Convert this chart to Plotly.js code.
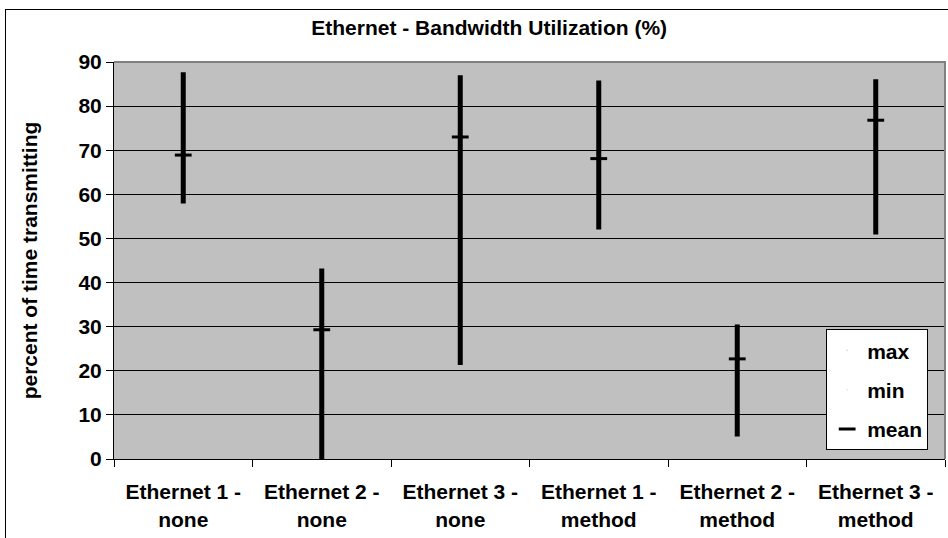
<!DOCTYPE html>
<html>
<head>
<meta charset="utf-8">
<script src="https://cdn.plot.ly/plotly-3.0.1.min.js"></script>
<style>
  body { margin: 0; background: #fff; }
  #chart { position: absolute; left: 0; top: 0; width: 948px; height: 538px; }
  #frame { position: absolute; left: 5px; top: 9px; width: 1000px; height: 1000px;
           border-left: 1px solid #000; border-top: 1px solid #000; pointer-events: none; }
</style>
</head>
<body>
<div id="chart"></div>
<div id="frame"></div>
<script>
const categories = [
    'Ethernet 1 -<br>none', 'Ethernet 2 -<br>none', 'Ethernet 3 -<br>none',
    'Ethernet 1 -<br>method', 'Ethernet 2 -<br>method', 'Ethernet 3 -<br>method'
];
const maxVals = [87.7, 43.2, 87.0, 85.8, 30.5, 86.1];
const minVals = [57.9, 0, 21.3, 52.0, 5.1, 50.9];
const meanVals = [68.9, 29.3, 73.0, 68.1, 22.7, 76.8];

const font = { family: 'Liberation Sans, Arial, sans-serif', size: 21, color: '#000', weight: 'bold' };

const traces = [
    {
        type: 'scatter', mode: 'markers', name: 'max', legendgroup: 'a',
        x: categories, y: maxVals,
        marker: { size: 1, opacity: 0 }, hoverinfo: 'y'
    },
    {
        type: 'scatter', mode: 'markers', name: 'min', legendgroup: 'b',
        x: categories, y: minVals,
        marker: { size: 1, opacity: 0 }, hoverinfo: 'y'
    },
    {
        type: 'scatter', mode: 'markers', name: 'mean', legendgroup: 'c',
        x: categories, y: meanVals,
        marker: { symbol: 'line-ew', size: 12, color: '#000', line: { color: '#000', width: 3 } },
        error_y: {
            type: 'data', symmetric: false,
            array: maxVals.map((v, i) => v - meanVals[i]),
            arrayminus: meanVals.map((v, i) => v - minVals[i]),
            color: '#000', thickness: 5, width: 0
        }
    }
];

const layout = {
    width: 948, height: 538,
    margin: { l: 114, r: 3, t: 62, b: 79 },
    paper_bgcolor: 'rgba(0,0,0,0)',
    plot_bgcolor: '#C0C0C0',
    font: font,
    showlegend: true,
    title: {
        text: 'Ethernet - Bandwidth Utilization (%)',
        font: font,
        xref: 'container', x: 0.516, xanchor: 'center',
        yref: 'container', y: 0.948, yanchor: 'middle'
    },
    xaxis: {
        type: 'category',
        range: [-0.5, 5.5],
        tickson: 'boundaries',
        ticks: 'outside', ticklen: 7, tickcolor: '#000',
        ticklabelstandoff: 14,
        showline: true, linecolor: '#000', linewidth: 1,
        showgrid: false,
        tickfont: font
    },
    yaxis: {
        range: [0, 90], dtick: 10,
        ticks: 'outside', ticklen: 7, tickcolor: '#000',
        showline: true, linecolor: '#000', linewidth: 1,
        gridcolor: '#000', gridwidth: 1,
        zeroline: false,
        tickfont: font,
        title: { text: 'percent of time transmitting', font: font, standoff: 35 }
    },
    legend: {
        x: 0.857, xanchor: 'left', y: 0.327, yanchor: 'top',
        bgcolor: '#fff', bordercolor: '#000', borderwidth: 1,
        traceorder: 'grouped', tracegroupgap: 9,
        font: font
    },
    shapes: [{
        type: 'path', xref: 'paper', yref: 'paper',
        path: 'M 0 1 L 1 1 L 1 0',
        line: { color: '#808080', width: 2 }
    }]
};

Plotly.newPlot('chart', traces, layout, { displayModeBar: false, staticPlot: true });
</script>
</body>
</html>
